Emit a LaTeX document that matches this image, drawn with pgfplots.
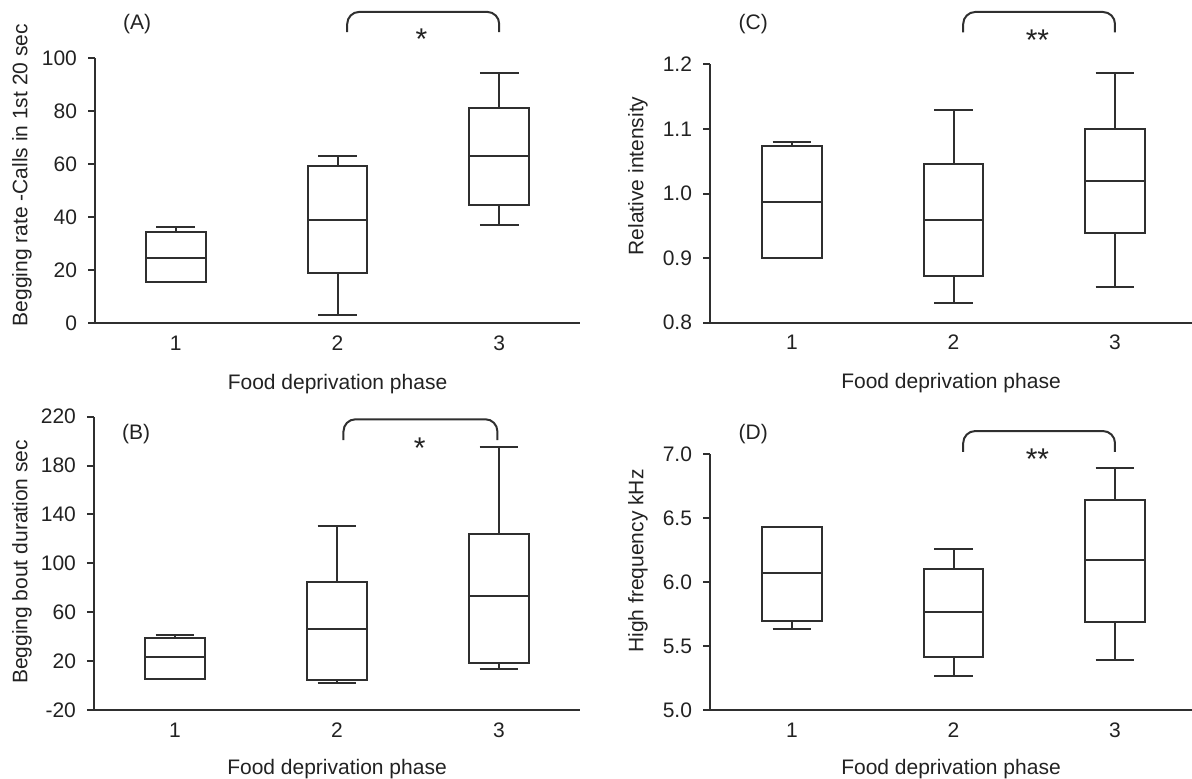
\documentclass[border=0pt]{standalone}
\usepackage{fontspec}
\setmainfont{Liberation Sans}
\usepackage{pgfplots}
\pgfplotsset{compat=1.18}
\usepgfplotslibrary{statistics}
\definecolor{linec}{HTML}{2F2F2F}
\definecolor{textc}{HTML}{222222}

\pgfplotsset{
  panel/.style={
    scale only axis,
    axis lines=left,
    axis line style={-, draw=linec, line width=1pt},
    xtick={1,2,3},
    xtick style={draw=none},
    ytick style={draw=linec, line width=1pt},
    tick align=outside,
    major tick length=3.5pt,
    tick label style={font=\fontsize{10.5}{12}\selectfont, text=textc},
    label style={font=\fontsize{10.5}{12}\selectfont, text=textc},
    /pgf/number format/assume math mode=true,
    clip=false,
    yticklabel style={xshift=-2pt},
    xticklabel style={anchor=base, yshift=-10pt},
    xlabel={Food deprivation phase},
    xlabel style={at={(rel axis cs:0.5,0)}, anchor=base, yshift=-33pt},
    boxplot/draw direction=y,
    boxplot/box extend=0.37,
    boxplot/whisker extend=0.24,
    every axis plot/.append style={draw=linec, line width=1pt, solid, fill=none},
  },
}
\tikzset{
  star/.style={anchor=base, text=textc, font=\fontsize{15}{16}\selectfont, yshift=-8.5pt},
  plab/.style={text=textc, font=\fontsize{10.5}{12}\selectfont},
  brk/.style={draw=linec, line width=1pt, rounded corners=6pt},
}

\begin{document}
\begin{tikzpicture}
\useasboundingbox (0,0) rectangle (596pt,-389pt);

% ---------- (A) ----------
\begin{axis}[panel,
  at={(47.5pt,-161.5pt)}, anchor=south west,
  width=242.5pt, height=132.5pt,
  xmin=0.5, xmax=3.5, ymin=0, ymax=100,
  ytick={0,20,...,100},
  ylabel={Begging rate -Calls in 1st 20 sec},
  ylabel style={at={([xshift=-36.5pt]rel axis cs:0,0.558)}, anchor=center},
]
\addplot+[boxplot prepared={draw position=1, lower whisker=15.5, lower quartile=15.5, median=24.6, upper quartile=34.4, upper whisker=36.2}, draw=linec] coordinates {};
\addplot+[boxplot prepared={draw position=2, lower whisker=3.0, lower quartile=18.7, median=38.7, upper quartile=59.4, upper whisker=63.2}, draw=linec] coordinates {};
\addplot+[boxplot prepared={draw position=3, lower whisker=37.1, lower quartile=44.4, median=63.1, upper quartile=81.1, upper whisker=94.5}, draw=linec] coordinates {};
\draw[brk] (axis cs:2.06,109.8) -- (axis cs:2.06,117.4) -- (axis cs:3.0,117.4) -- (axis cs:3.0,109.8);
\node[star] at (axis cs:2.52,109.6) {*};
\node[plab] at (axis cs:0.76,112.8) {(A)};
\end{axis}

% ---------- (B) ----------
\begin{axis}[panel,
  at={(47pt,-355pt)}, anchor=south west,
  width=243pt, height=146.65pt,
  xmin=0.5, xmax=3.5, ymin=-20, ymax=220,
  ytick={-20,20,...,220},
  ylabel={Begging bout duration sec},
  ylabel style={at={([xshift=-36pt]rel axis cs:0,0.505)}, anchor=center},
  xlabel style={yshift=1pt},
]
\addplot+[boxplot prepared={draw position=1, lower whisker=5.7, lower quartile=5.7, median=23.4, upper quartile=38.9, upper whisker=41.1}, draw=linec] coordinates {};
\addplot+[boxplot prepared={draw position=2, lower whisker=2.1, lower quartile=4.6, median=46.6, upper quartile=85.0, upper whisker=130.8}, draw=linec] coordinates {};
\addplot+[boxplot prepared={draw position=3, lower whisker=13.6, lower quartile=18.2, median=73.0, upper quartile=124.3, upper whisker=194.9}, draw=linec] coordinates {};
\draw[brk] (axis cs:2.04,200.9) -- (axis cs:2.04,217.9) -- (axis cs:2.99,217.9) -- (axis cs:2.99,200.9);
\node[star] at (axis cs:2.51,199.6) {*};
\node[plab] at (axis cs:0.76,205.8) {(B)};
\end{axis}

% ---------- (C) ----------
\begin{axis}[panel,
  at={(355pt,-161.35pt)}, anchor=south west,
  width=241pt, height=129.2pt,
  xmin=0.492, xmax=3.477, ymin=0.8, ymax=1.2,
  ytick={0.8,0.9,...,1.21},
  yticklabel style={/pgf/number format/.cd, fixed, fixed zerofill, precision=1},
  ylabel={Relative intensity},
  ylabel style={at={([xshift=-36pt]rel axis cs:0,0.568)}, anchor=center},
]
\addplot+[boxplot prepared={draw position=1, lower whisker=0.900, lower quartile=0.900, median=0.987, upper quartile=1.073, upper whisker=1.080}, draw=linec] coordinates {};
\addplot+[boxplot prepared={draw position=2, lower whisker=0.831, lower quartile=0.872, median=0.959, upper quartile=1.045, upper whisker=1.130}, draw=linec] coordinates {};
\addplot+[boxplot prepared={draw position=3, lower whisker=0.856, lower quartile=0.939, median=1.020, upper quartile=1.100, upper whisker=1.187}, draw=linec] coordinates {};
\draw[brk] (axis cs:2.06,1.2496) -- (axis cs:2.06,1.281) -- (axis cs:3.0,1.281) -- (axis cs:3.0,1.2496);
\node[star] at (axis cs:2.52,1.248) {**};
\node[plab] at (axis cs:0.76,1.262) {(C)};
\end{axis}

% ---------- (D) ----------
\begin{axis}[panel,
  at={(355pt,-355pt)}, anchor=south west,
  width=241pt, height=127.85pt,
  xmin=0.492, xmax=3.477, ymin=5.0, ymax=7.0,
  ytick={5.0,5.5,...,7.01},
  yticklabel style={/pgf/number format/.cd, fixed, fixed zerofill, precision=1},
  ylabel={High frequency kHz},
  ylabel style={at={([xshift=-36pt]rel axis cs:0,0.583)}, anchor=center},
  xlabel style={yshift=1pt},
]
\addplot+[boxplot prepared={draw position=1, lower whisker=5.636, lower quartile=5.694, median=6.072, upper quartile=6.434, upper whisker=6.434}, draw=linec] coordinates {};
\addplot+[boxplot prepared={draw position=2, lower whisker=5.269, lower quartile=5.417, median=5.767, upper quartile=6.103, upper whisker=6.262}, draw=linec] coordinates {};
\addplot+[boxplot prepared={draw position=3, lower whisker=5.394, lower quartile=5.686, median=6.173, upper quartile=6.643, upper whisker=6.890}, draw=linec] coordinates {};
\draw[brk] (axis cs:2.06,7.02) -- (axis cs:2.06,7.182) -- (axis cs:3.0,7.182) -- (axis cs:3.0,7.02);
\node[star] at (axis cs:2.52,7.018) {**};
\node[plab] at (axis cs:0.76,7.159) {(D)};
\end{axis}
\end{tikzpicture}
\end{document}
